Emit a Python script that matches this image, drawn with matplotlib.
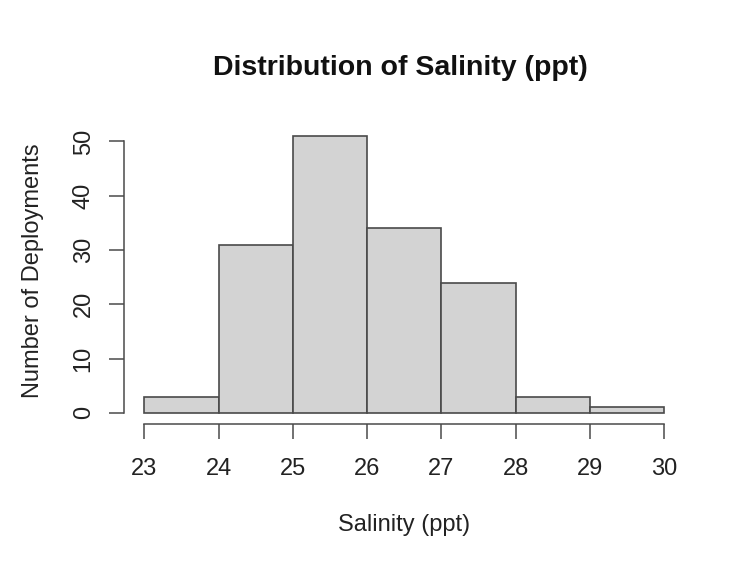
import matplotlib
matplotlib.use("Agg")
import matplotlib.pyplot as plt
import numpy as np

# Histogram of salinity readings (counts per 1-ppt bin)
bin_edges = [23, 24, 25, 26, 27, 28, 29, 30]
counts = [3, 31, 51, 34, 24, 3, 1]
x_ticks = [23, 24, 25, 26, 27, 28, 29, 30]
y_ticks = [0, 10, 20, 30, 40, 50]

title = "Distribution of Salinity (ppt)"
x_label = "Salinity (ppt)"
y_label = "Number of Deployments"

plt.rcParams["font.family"] = ["Liberation Sans", "DejaVu Sans"]
text_color = "#222222"

fig = plt.figure(figsize=(7.31, 5.63), dpi=100)
ax = fig.add_axes([0.169, 0.247, 0.768, 0.531])

lefts = np.array(bin_edges[:-1])
widths = np.diff(bin_edges)
ax.bar(lefts, counts, width=widths, align="edge",
       color="#d3d3d3", edgecolor="#4a4a4a", linewidth=1.2)

# R-style 4% padding around the data range
xr = bin_edges[-1] - bin_edges[0]
ax.set_xlim(bin_edges[0] - 0.04 * xr, bin_edges[-1] + 0.04 * xr)
yr = max(counts)
ax.set_ylim(-0.04 * yr, yr * 1.04)

for s in ("top", "right"):
    ax.spines[s].set_visible(False)
ax.spines["bottom"].set_bounds(x_ticks[0], x_ticks[-1])
ax.spines["left"].set_bounds(y_ticks[0], y_ticks[-1])
for s in ("bottom", "left"):
    ax.spines[s].set_color("#4a4a4a")
    ax.spines[s].set_linewidth(1.1)

ax.set_xticks(x_ticks)
ax.set_yticks(y_ticks)
ax.tick_params(axis="both", direction="out", length=10.8, width=1.1,
               color="#4a4a4a", labelsize=17, labelcolor=text_color)
ax.tick_params(axis="x", pad=13.5)
ax.tick_params(axis="y", pad=10)
for lab in ax.get_yticklabels():
    lab.set_rotation(90)
    lab.set_va("center")

fig.text(400 / 731, 1 - 68 / 563, title, ha="center", va="center",
         fontsize=20.5, fontweight="bold", color="#111111")
fig.text(404 / 731, 1 - 525 / 563, x_label, ha="center", va="center",
         fontsize=17, color=text_color)
fig.text(33 / 731, 1 - 271 / 563, y_label, ha="center", va="center",
         rotation=90, fontsize=17, color=text_color)

fig.savefig("out.png", dpi=100, facecolor="white")
